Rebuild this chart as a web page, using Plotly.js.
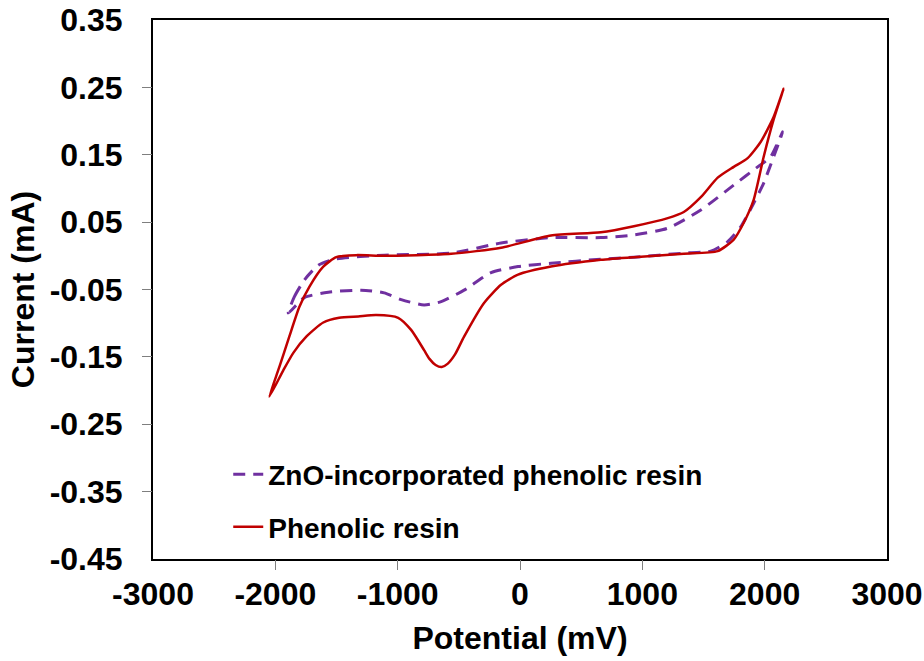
<!DOCTYPE html>
<html>
<head>
<meta charset="utf-8">
<script src="https://cdn.plot.ly/plotly-3.0.1.min.js"></script>
<style>
  html, body { margin: 0; padding: 0; background: #ffffff; }
  #chart { width: 924px; height: 661px; }
</style>
</head>
<body>
<div id="chart"></div>
<script>
// Cyclic voltammograms: potential (mV) vs current (mA), each loop traced
// from the negative vertex along the anodic branch and back.
const seriesNames = ['ZnO-incorporated phenolic resin', 'Phenolic resin'];

const potentialZnO = [-1894, -1845, -1763, -1649, -1518, -1110, -563, -155, 253, 661, 931, 1208, 1478, 1747, 1943, 2049, 2147,
                      2073, 1992, 1910, 1804, 1698, 1559, 1339, 931, 661, 253, -16, -237, -457, -645, -784, -971, -1110, -1298, -1567, -1763, -1894];
const currentZnO   = [-0.085, -0.061, -0.036, -0.014, -0.005, 0.001, 0.004, 0.019, 0.027, 0.027, 0.031, 0.041, 0.068, 0.105, 0.132, 0.147, 0.184,
                      0.147, 0.108, 0.078, 0.043, 0.021, 0.007, 0.004, -0.002, -0.005, -0.011, -0.016, -0.025, -0.051, -0.068, -0.073, -0.065, -0.055, -0.051, -0.054, -0.062, -0.085];

const potentialResin = [-2049, -1967, -1886, -1804, -1722, -1608, -1502, -1339, -1110, -563, -155, 253, 661, 931, 1208, 1339, 1478, 1616, 1747, 1861, 1967, 2073, 2155,
                        2073, 1992, 1910, 1829, 1747, 1616, 1339, 931, 661, 253, -16, -155, -294, -457, -530, -590, -640, -690, -740, -784, -890, -996, -1176, -1322, -1478, -1608, -1747, -1853, -1935, -2049];
const currentResin   = [-0.209, -0.165, -0.120, -0.076, -0.046, -0.016, -0.002, 0.001, 0.000, 0.003, 0.012, 0.030, 0.035, 0.044, 0.056, 0.065, 0.087, 0.116, 0.132, 0.145, 0.169, 0.206, 0.248,
                        0.202, 0.147, 0.083, 0.049, 0.024, 0.007, 0.003, -0.002, -0.006, -0.016, -0.028, -0.043, -0.070, -0.120, -0.146, -0.160, -0.165, -0.162, -0.153, -0.140, -0.110, -0.092, -0.088, -0.090, -0.092, -0.099, -0.120, -0.144, -0.170, -0.209];

const xTickVals = [-3000, -2000, -1000, 0, 1000, 2000, 3000];
const xTickText = ['-3000', '-2000', '-1000', '0', '1000', '2000', '3000'];
const yTickVals = [-0.45, -0.35, -0.25, -0.15, -0.05, 0.05, 0.15, 0.25, 0.35];
const yTickText = ['-0.45', '-0.35', '-0.25', '-0.15', '-0.05', '0.05', '0.15', '0.25', '0.35'];

const FONT = '"Liberation Sans", Arial, sans-serif';
const xRange = [xTickVals[0], xTickVals[xTickVals.length - 1]];
const yRange = [yTickVals[0], yTickVals[yTickVals.length - 1]];

const traces = [
  {
    x: potentialZnO, y: currentZnO, name: seriesNames[0], legendgroup: 'zno',
    type: 'scatter', mode: 'lines',
    line: { color: '#7030a0', width: 3, dash: '12px,8px', shape: 'spline', smoothing: 0.6 }
  },
  {
    x: potentialResin, y: currentResin, name: seriesNames[1], legendgroup: 'resin',
    type: 'scatter', mode: 'lines',
    line: { color: '#c00000', width: 2.5, shape: 'spline', smoothing: 0.6 }
  },
  // empty series that brings the tick-mark overlay axes into being
  { x: [], y: [], xaxis: 'x2', yaxis: 'y2', type: 'scatter', mode: 'lines',
    showlegend: false, hoverinfo: 'skip' }
];

const tickFont = { family: FONT, size: 32, weight: 'bold', color: '#000000' };
const titleFont = { family: FONT, size: 32, weight: 'bold', color: '#000000' };

// the main axes carry labels and the frame; the overlay axes draw the
// interior tick marks only
const layout = {
  width: 924, height: 661,
  margin: { l: 153, r: 37, t: 20, b: 102 },
  paper_bgcolor: '#ffffff', plot_bgcolor: '#ffffff',
  font: { family: FONT, color: '#000000' },
  showlegend: true,
  legend: {
    x: 0.1025, y: 0.203, xanchor: 'left', yanchor: 'top',
    bgcolor: 'rgba(0,0,0,0)', borderwidth: 0,
    font: { family: FONT, size: 28, weight: 'bold', color: '#000000' },
    tracegroupgap: 13, traceorder: 'grouped'
  },
  xaxis: {
    range: xRange, tickvals: xTickVals, ticktext: xTickText,
    ticks: 'outside', ticklen: 6, tickcolor: 'rgba(0,0,0,0)',
    tickfont: tickFont, ticklabelstandoff: 0,
    showline: true, linecolor: '#000000', linewidth: 2, mirror: true,
    showgrid: false, zeroline: false,
    title: { text: 'Potential (mV)', font: titleFont, standoff: 15 }
  },
  yaxis: {
    range: yRange, tickvals: yTickVals, ticktext: yTickText,
    ticks: 'outside', ticklen: 10, tickcolor: 'rgba(0,0,0,0)',
    tickfont: tickFont, ticklabelstandoff: 12,
    showline: true, linecolor: '#000000', linewidth: 2, mirror: true,
    showgrid: false, zeroline: false,
    title: { text: 'Current (mA)', font: titleFont, standoff: 5 }
  },
  xaxis2: {
    overlaying: 'x', anchor: 'y', side: 'bottom', range: xRange,
    tickvals: xTickVals.slice(1, -1), ticks: 'outside', ticklen: 10,
    tickcolor: '#7f7f7f', tickwidth: 1, showticklabels: false,
    showline: false, showgrid: false, zeroline: false
  },
  yaxis2: {
    overlaying: 'y', anchor: 'x', side: 'left', range: yRange,
    tickvals: yTickVals.slice(1, -1), ticks: 'outside', ticklen: 10,
    tickcolor: '#7f7f7f', tickwidth: 1, showticklabels: false,
    showline: false, showgrid: false, zeroline: false
  }
};

Plotly.newPlot('chart', traces, layout, { staticPlot: true, displayModeBar: false });
</script>
</body>
</html>
